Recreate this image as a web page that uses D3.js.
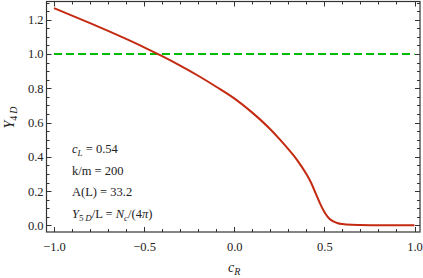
<!DOCTYPE html>
<html>
<head>
<meta charset="utf-8">
<script src="https://cdn.jsdelivr.net/npm/d3@7"></script>
<style>
  body { margin: 0; background: #fff; }
</style>
</head>
<body>
<svg id="svg" width="423" height="278" font-family="'Liberation Serif', 'Times New Roman', serif"></svg>
<script>
// curve
const cR = [-1.0, -0.9, -0.8, -0.7, -0.6, -0.5, -0.4, -0.3, -0.2, -0.1, 0.0, 0.1, 0.2, 0.25, 0.3, 0.35, 0.4, 0.425, 0.45, 0.475, 0.5, 0.525, 0.55, 0.575, 0.6, 0.65, 0.7, 0.8, 0.9, 1.0];
const y4D = [1.267, 1.224, 1.18, 1.135, 1.088, 1.039, 0.987, 0.932, 0.873, 0.809, 0.741, 0.658, 0.561, 0.505, 0.445, 0.38, 0.30, 0.252, 0.192, 0.13, 0.078, 0.042, 0.024, 0.013, 0.008, 0.004, 0.003, 0.002, 0.002, 0.002];
const refLevel = 1.0;
const xTicks = [-1.0, -0.5, 0.0, 0.5, 1.0];
const yTicks = [0.0, 0.2, 0.4, 0.6, 0.8, 1.0, 1.2];
const notes = ["c_L = 0.54", "k/m = 200", "A(L) = 33.2", "Y5D"];

const mLeft = 46.5, mRight = 420, mTop = 1.5, mBottom = 232;
const x = d3.scaleLinear().domain([-1.0416, 1.0305]).range([mLeft, mRight]);
const y = d3.scaleLinear().domain([-0.038, 1.306]).range([mBottom, mTop]);

const serif = "'Liberation Serif', 'Times New Roman', serif";
const svg = d3.select("#svg");

const minorX = d3.range(-1.0, 1.0001, 0.1).map(v => +v.toFixed(2));
const minorY = d3.range(0, 1.3001, 0.05).map(v => +v.toFixed(3));

const tickCol = "#333";

// ticks on all four sides, pointing in
const gMinor = svg.append("g").attr("stroke", tickCol).attr("stroke-width", 1);
minorX.forEach(v => {
  const px = Math.round(x(v)) + 0.5;
  const len = xTicks.some(t => Math.abs(t - v) < 1e-6) ? 5 : 3;
  gMinor.append("line").attr("x1", px).attr("x2", px).attr("y1", mBottom).attr("y2", mBottom - len);
  gMinor.append("line").attr("x1", px).attr("x2", px).attr("y1", mTop).attr("y2", mTop + len);
});
minorY.forEach(v => {
  const py = Math.round(y(v)) + 0.5;
  const len = yTicks.some(t => Math.abs(t - v) < 1e-6) ? 5 : 3;
  gMinor.append("line").attr("x1", mLeft).attr("x2", mLeft + len).attr("y1", py).attr("y2", py);
  gMinor.append("line").attr("x1", mRight).attr("x2", mRight - len).attr("y1", py).attr("y2", py);
});

// tick labels via axes
const fmt = d => d < 0 ? "\u2212" + Math.abs(d).toFixed(1) : d.toFixed(1);
const ax = svg.append("g")
  .attr("transform", `translate(0,${mBottom})`)
  .call(d3.axisBottom(x).tickValues(xTicks).tickFormat(fmt).tickSize(0).tickPadding(10));
ax.select(".domain").remove();
ax.attr("font-family", serif).attr("font-size", 12.5);
ax.selectAll("text").attr("fill", "#222");

const ay = svg.append("g")
  .attr("transform", `translate(${mLeft},0)`)
  .call(d3.axisLeft(y).tickValues(yTicks).tickFormat(fmt).tickSize(0).tickPadding(3));
ay.select(".domain").remove();
ay.attr("font-family", serif).attr("font-size", 12.5);
ay.selectAll("text").attr("fill", "#222");

// frame
svg.append("rect")
  .attr("x", mLeft).attr("y", mTop)
  .attr("width", mRight - mLeft).attr("height", mBottom - mTop)
  .attr("fill", "none").attr("stroke", tickCol).attr("stroke-width", 1.2);

// dashed reference line
svg.append("line")
  .attr("x1", x(-1)).attr("x2", x(1))
  .attr("y1", y(refLevel)).attr("y2", y(refLevel))
  .attr("stroke", "#00bb00").attr("stroke-width", 2)
  .attr("stroke-dasharray", "8,4");

// curve
const line = d3.line()
  .x((d, i) => x(cR[i]))
  .y(d => y(d))
  .curve(d3.curveMonotoneX);
svg.append("path")
  .attr("d", line(y4D))
  .attr("fill", "none")
  .attr("stroke", "#c42a12")
  .attr("stroke-width", 2);

// annotations
const gText = svg.append("g").attr("font-family", serif).attr("fill", "#222").attr("font-size", 12.5);
const tx = 72;
const t1 = gText.append("text").attr("x", tx).attr("y", 153);
t1.append("tspan").attr("font-style", "italic").text("c");
t1.append("tspan").attr("font-size", 9).attr("font-style", "italic").attr("dy", 3).text("L");
t1.append("tspan").attr("dy", -3).text(" = 0.54");

gText.append("text").attr("x", tx).attr("y", 174.5).text(notes[1]);
gText.append("text").attr("x", tx).attr("y", 196).text(notes[2]);

const t4 = gText.append("text").attr("x", tx).attr("y", 217.5);
t4.append("tspan").attr("font-style", "italic").text("Y");
t4.append("tspan").attr("font-size", 9).attr("dy", 3).text("5\u2009");
t4.append("tspan").attr("font-size", 9).attr("font-style", "italic").text("D");
t4.append("tspan").attr("dy", -3).text("/L = ");
t4.append("tspan").attr("font-style", "italic").text("N");
t4.append("tspan").attr("font-size", 9).attr("font-style", "italic").attr("dy", 3).text("c");
t4.append("tspan").attr("dy", -3).text("/(4");
t4.append("tspan").attr("font-style", "italic").text("\u03c0");
t4.append("tspan").text(")");

// axis titles
const xt = gText.append("text").attr("x", x(0)).attr("y", 272).attr("text-anchor", "middle").attr("font-size", 14);
xt.append("tspan").attr("font-style", "italic").text("c");
xt.append("tspan").attr("font-size", 10).attr("font-style", "italic").attr("dy", 3).text("R");

const yt = gText.append("text")
  .attr("transform", `translate(14,${y(0.63)}) rotate(-90)`)
  .attr("text-anchor", "middle").attr("font-size", 14);
yt.append("tspan").attr("font-style", "italic").text("Y");
yt.append("tspan").attr("font-size", 10).attr("dy", 3).text("4\u2009");
yt.append("tspan").attr("font-size", 10).attr("font-style", "italic").text("D");
</script>
</body>
</html>
